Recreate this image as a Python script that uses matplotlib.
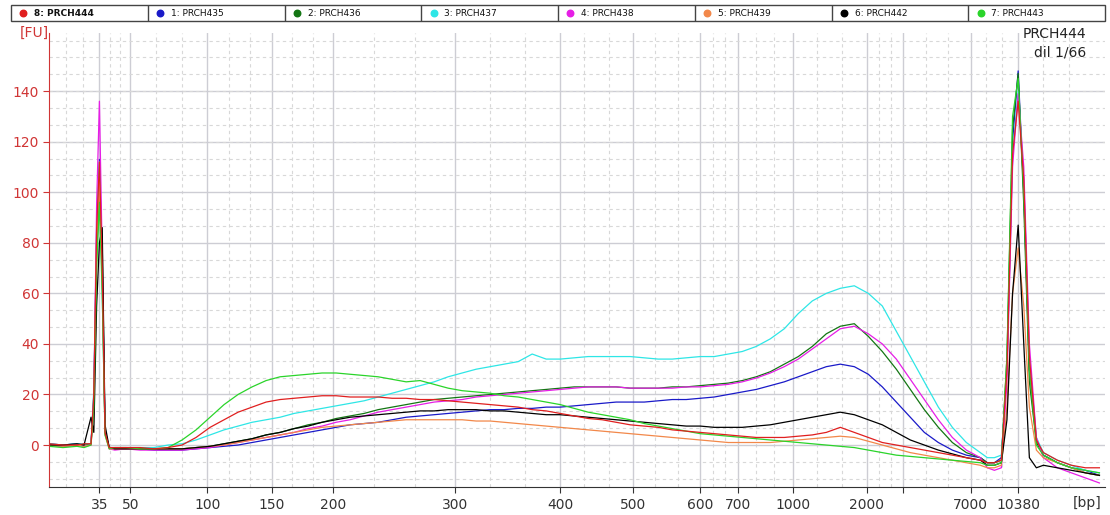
import matplotlib.pyplot as plt
from matplotlib.patches import Rectangle

# ladder: fragment size (bp) and migration time (s) used to place the x ticks
ladder_bp = [35, 50, 100, 150, 200, 300, 400, 500, 600, 700, 1000, 2000, 3000, 7000, 10380]
ladder_time = [43.6, 45.8, 51.3, 55.9, 60.3, 69.0, 76.5, 81.7, 86.5, 89.2, 93.1, 98.4, 101.0, 105.8, 109.2]
ladder_labels = ["35", "50", "100", "150", "200", "300", "400", "500", "600", "700",
                 "1000", "2000", "", "7000", "10380"]

# common sampling times (s)
time = ([40, 41, 42, 42.5, 43, 43.2, 43.4, 43.6, 43.8, 44.0, 44.3, 44.7]
        + [45.5 + i for i in range(62)]
        + [107, 107.5, 108, 108.4, 108.8, 109.2, 109.6, 110, 110.5, 111, 112, 113, 114, 115])

# fluorescence [FU]
prch435 = ([0.5, 0, 0.5, 0, 0.5, 20, 80, 113, 70, 5, -1, -1.5]
           + [-1.5, -1.5, -2, -2, -2, -1.5, -1, -0.5, 0, 1, 2, 3, 4, 5, 6, 7, 8, 8.5, 9, 10, 11,
              11.5, 12, 12.5, 13, 13.5, 14, 14, 14.5, 14.5, 15, 15, 15.5, 16, 16.5, 17, 17, 17,
              17.5, 18, 18, 18.5, 19, 20, 21, 22, 23.5, 25, 27, 29, 31, 32, 31, 28, 23, 17, 11,
              5, 1, -2, -4, -5]
           + [-7, -7, -5, 30, 120, 148, 100, 30, 2, -4, -7, -9, -10, -12])
prch436 = ([0, -0.5, 0, 0, 0.5, 18, 75, 100, 80, 6, -1, -1.5]
           + [-1.5, -1.5, -1.5, -1.5, -1.5, -1, -0.5, 0.5, 1.5, 2.5, 4, 5, 6.5, 8, 9, 10.5, 11.5,
              12.5, 14, 15, 16, 17, 18, 18.5, 19, 19.5, 20, 20.5, 21, 21.5, 22, 22.5, 23, 23, 23,
              23, 22.5, 22.5, 22.5, 23, 23, 23.5, 24, 24.5, 25.5, 27, 29, 32, 35, 39, 44, 47, 48,
              43, 37, 30, 22, 14, 7, 1, -3, -5]
           + [-7, -7, -6, 35, 125, 147, 95, 25, 1, -4, -7, -9, -11, -12])
prch437 = ([0.5, 0, 0.5, 0.5, 0.5, 22, 85, 112, 60, 5, -1, -1]
           + [-1, -1, -1, 0, 0.5, 2, 4, 6, 7.5, 9, 10, 11, 12.5, 13.5, 14.5, 15.5, 16.5, 17.5, 19,
              20.5, 22, 23.5, 25, 27, 28.5, 30, 31, 32, 33, 36, 34, 34, 34.5, 35, 35, 35, 35,
              34.5, 34, 34, 34.5, 35, 35, 36, 37, 39, 42, 46, 52, 57, 60, 62, 63, 60, 55, 45, 35,
              25, 15, 7, 1, -3]
           + [-5, -5, -4, 30, 115, 140, 105, 35, 3, -3, -6, -8, -10, -11])
prch438 = ([0, -0.5, 0, -0.5, 0, 18, 95, 136, 75, 5, -1.5, -2]
           + [-1.5, -2, -2, -2, -2, -1.5, -1, 0, 1, 2, 3, 4, 5, 6.5, 7.5, 9, 10, 11.5, 13, 14,
              15, 16, 17, 17.5, 18, 19, 19.5, 20, 20.5, 21, 21.5, 22, 22.5, 23, 23, 23, 22.5,
              22.5, 22.5, 22.5, 23, 23, 23.5, 24, 25, 26.5, 28.5, 31, 34, 38, 42, 46, 47, 44, 40,
              34, 26, 18, 10, 3, -2, -5]
           + [-9, -10, -9, 25, 110, 139, 110, 40, 3, -5, -9, -11, -13, -15])
prch439 = ([0, -0.5, 0, -0.5, 0, 15, 80, 104, 65, 4, -1.5, -1.5]
           + [-1.5, -1.5, -1.5, -1.5, -1.5, -1, -0.5, 0, 1, 2, 3, 4, 5, 6, 7, 7.5, 8, 8.5, 9, 9.5,
              10, 10, 10, 10, 10, 9.5, 9.5, 9, 8.5, 8, 7.5, 7, 6.5, 6, 5.5, 5, 4.5, 4, 3.5, 3,
              2.5, 2, 1.5, 1, 1, 1, 1, 1.5, 2, 2.5, 3, 3.5, 3, 1.5, 0, -1.5, -3, -4, -5, -6, -7,
              -8]
           + [-9, -9, -8, 15, 60, 78, 55, 15, -2, -5, -7, -9, -11, -12])
prch442 = ([0, 0, 0.5, 0, 11, 5, 55, 80, 86, 8, -1, -1.5]
           + [-1.5, -1.5, -1.5, -1.5, -1.5, -1, -0.5, 0.5, 1.5, 2.5, 4, 5, 6.5, 7.5, 9, 10, 11,
              11.5, 12, 12.5, 13, 13.5, 13.5, 14, 14, 14, 13.5, 13.5, 13, 12.5, 12, 12, 11.5, 11,
              10.5, 10, 9.5, 9, 8.5, 8, 7.5, 7.5, 7, 7, 7, 7.5, 8, 9, 10, 11, 12, 13, 12, 10, 8, 5,
              2, 0, -2, -3.5, -5, -6]
           + [-8, -8, -7, 10, 60, 87, 40, -5, -9, -8, -9, -10, -11, -12])
prch443 = ([-0.5, -1, -0.5, -1, 0, 15, 70, 96, 60, 4, -1.5, -1]
           + [-1, -1.5, -1.5, -1, 2, 6, 11, 16, 20, 23, 25.5, 27, 27.5, 28, 28.5, 28.5, 28, 27.5,
              27, 26, 25, 25.5, 24, 22.5, 21.5, 21, 20.5, 19.5, 19, 18, 17, 16, 14.5, 13, 12, 11,
              10, 8.5, 7.5, 6.5, 5.5, 4.5, 4, 3.5, 3, 2.5, 2, 1.5, 1, 0.5, 0, -0.5, -1, -2, -3, -4,
              -4.5, -5, -5.5, -6, -6.5, -7]
           + [-8, -8, -7, 35, 130, 145, 100, 30, 0, -4, -7, -9, -10, -11])
prch444 = ([0.5, 0, 0, 0.5, 0.5, 20, 85, 112, 70, 5, -1, -1]
           + [-1, -1, -1.5, -1, 0, 3, 7, 10, 13, 15, 17, 18, 18.5, 19, 19.5, 19.5, 19, 19, 19,
              18.5, 18.5, 18, 18, 17.5, 17, 16.5, 16, 15.5, 15, 14, 13.5, 12.5, 11.5, 10.5, 10, 9,
              8, 7.5, 7, 6, 5.5, 5, 4.5, 4, 3.5, 3, 3, 3, 3.5, 4, 5, 7, 5, 3, 1, 0, -1, -2, -3, -4,
              -5, -6]
           + [-7, -7, -6, 30, 115, 136, 105, 35, 2, -3, -6, -8, -9, -9])

sample_names = ["8: PRCH444", "1: PRCH435", "2: PRCH436", "3: PRCH437",
                "4: PRCH438", "5: PRCH439", "6: PRCH442", "7: PRCH443"]
sample_values = [prch444, prch435, prch436, prch437, prch438, prch439, prch442, prch443]
sample_colors = ["#e01f1f", "#1a1ac8", "#137513", "#2ee6e6",
                 "#e61ee6", "#f2884a", "#000000", "#2ad42a"]

fig = plt.figure(figsize=(11.1, 5.15), dpi=100)
ax = fig.add_axes([49 / 1110, 28 / 515, 1056 / 1110, 454 / 515])

# minor (dashed) vertical grid: thirds between ladder positions
edges = [40.0] + ladder_time + [114.6]
for a, b in zip(edges[:-1], edges[1:]):
    for k in (1, 2):
        ax.axvline(a + (b - a) * k / 3, color="#d8d8d8", lw=0.8, ls=(0, (3, 3)), zorder=0)
for t in ladder_time:
    ax.axvline(t, color="#cdcdd4", lw=1.0, zorder=0)

# horizontal grid: solid every 20, dashed thirds in between
for v in range(-20, 141, 20):
    ax.axhline(v, color="#cdcdd4", lw=1.0, zorder=0)
for v in range(-20, 160, 20):
    for k in (1, 2, 3):
        if v + 20 * k <= 140 and k == 3:
            continue
        ax.axhline(v + 20 * k / 3, color="#d8d8d8", lw=0.8, ls=(0, (3, 3)), zorder=0)

# traces (sample 8 drawn last so it sits on top)
order = [1, 2, 3, 4, 5, 6, 7, 0]
for i in order:
    ax.plot(time, sample_values[i], color=sample_colors[i], lw=0.9, zorder=2)

ax.set_xlim(40, 115.4)
ax.set_ylim(-16.6, 163.0)

ax.set_xticks(ladder_time)
ax.set_xticklabels(ladder_labels, fontsize=10, color="#333333")
ax.set_yticks(range(0, 141, 20))
ax.set_yticklabels([str(v) for v in range(0, 141, 20)], fontsize=10, color="#d03535")
ax.tick_params(axis="x", length=4, color="#333333", pad=4)
ax.tick_params(axis="y", length=4, color="#d03535", pad=3)

for s in ["top", "right"]:
    ax.spines[s].set_visible(False)
ax.spines["left"].set_color("#d03535")
ax.spines["bottom"].set_color("#333333")

ax.text(0.0, 1.0, "[FU]", transform=ax.transAxes, ha="right", va="center",
        fontsize=10, color="#d03535")
ax.text(0.997, -0.035, "[bp]", transform=ax.transAxes, ha="right", va="center",
        fontsize=10, color="#333333")
ax.text(0.982, 0.998, "PRCH444", transform=ax.transAxes, ha="right", va="center",
        fontsize=10, color="#222222")
ax.text(0.982, 0.958, "dil 1/66", transform=ax.transAxes, ha="right", va="center",
        fontsize=10, color="#222222")

# legend strip along the top
lg = fig.add_axes([11 / 1110, 494 / 515, 1094 / 1110, 16 / 515])
lg.set_xlim(0, 8)
lg.set_ylim(0, 1)
lg.axis("off")
lg.add_patch(Rectangle((0, 0), 8, 1, fill=False, lw=1, ec="#444444", clip_on=False))
for i, (name, c) in enumerate(zip(sample_names, sample_colors)):
    if i > 0:
        lg.plot([i, i], [0, 1], color="#444444", lw=1)
    lg.scatter([i + 0.09], [0.5], s=22, color=c, zorder=3)
    lg.text(i + 0.17, 0.5, name, va="center", ha="left", fontsize=6.5,
            fontweight="bold" if i == 0 else "normal", color="#111111")

fig.savefig("out.png", dpi=100)
